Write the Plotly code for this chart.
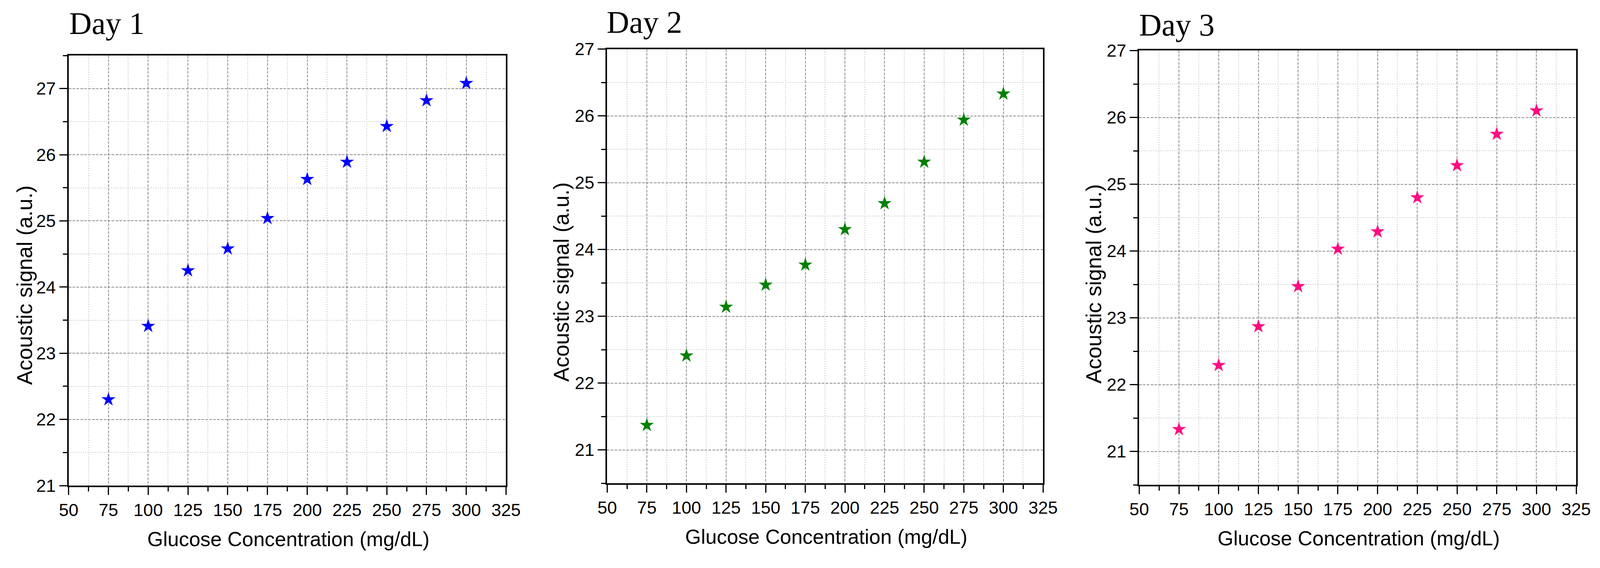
import plotly.graph_objects as go

W, H = 4136, 1454

glucose = [75, 100, 125, 150, 175, 200, 225, 250, 275, 300]
day1 = [22.30, 23.41, 24.25, 24.58, 25.04, 25.63, 25.89, 26.43, 26.82, 27.08]
day2 = [21.37, 22.41, 23.14, 23.47, 23.77, 24.30, 24.69, 25.31, 25.94, 26.33]
day3 = [21.33, 22.29, 22.87, 23.47, 24.03, 24.29, 24.80, 25.28, 25.75, 26.10]

titles = ["Day 1", "Day 2", "Day 3"]
colors = ["#0000FF", "#008000", "#FF0A80"]
x_ticks = [50, 75, 100, 125, 150, 175, 200, 225, 250, 275, 300, 325]
y_ticks = [21, 22, 23, 24, 25, 26, 27]
y_ranges = [[21, 27.5], [20.5, 27], [20.5, 27]]
x_title = "Glucose Concentration (mg/dL)"
y_title = "Acoustic signal (a.u.)"

DX = -22  # horizontal correction
# panel pixel boxes: (left, right, top, bottom)
boxes = [(167, 1304, 113, 1254), (1567, 2700, 96, 1248), (2950, 4086, 100, 1252)]
# title positions (left x, center y)
title_pos = [(166, 28), (1563, 25), (2948, 32)]
xt_pos = [(738, 1396), (2137, 1390), (3521, 1394)]
yt_pos = [(52, 722), (1448, 714), (2832, 719)]

SANS = "Liberation Sans, Arial, sans-serif"
SERIF = "Liberation Serif, Times New Roman, serif"

fig = go.Figure()
series = [day1, day2, day3]
annotations = []
for i in range(3):
    sfx = "" if i == 0 else str(i + 1)
    fig.add_trace(go.Scatter(
        x=glucose, y=series[i], mode="markers",
        marker=dict(symbol="star", size=27, color=colors[i], line=dict(width=0)),
        xaxis="x" + sfx, yaxis="y" + sfx, showlegend=False,
    ))
    l, r, t, b = boxes[i]
    l += DX
    r += DX
    xd = [l / W, r / W]
    yd = [1 - b / H, 1 - t / H]
    common = dict(
        showline=True, linecolor="black", linewidth=4, mirror=True,
        ticks="outside", ticklen=20, tickwidth=3, tickcolor="black",
        showgrid=True, gridcolor="#8a8a8a", gridwidth=2, griddash="6px,4px",
        zeroline=False,
        tickfont=dict(family=SANS, size=45, color="black"),
    )
    fig.update_layout(**{
        "xaxis" + sfx: dict(
            domain=xd, range=[50, 325], tickmode="array", tickvals=x_ticks,
            ticktext=[str(v) for v in x_ticks],
            anchor="y" + sfx,
            minor=dict(ticks="outside", ticklen=11, tickwidth=3, tickcolor="black",
                       dtick=12.5, tick0=50, showgrid=True, gridcolor="#d0d0d0",
                       gridwidth=1.5, griddash="dot"),
            **common),
        "yaxis" + sfx: dict(
            domain=yd, range=y_ranges[i], tickmode="array", tickvals=y_ticks,
            ticktext=[str(v) for v in y_ticks],
            anchor="x" + sfx,
            minor=dict(ticks="outside", ticklen=11, tickwidth=3, tickcolor="black",
                       dtick=0.5, tick0=21, showgrid=True, gridcolor="#d0d0d0",
                       gridwidth=1.5, griddash="dot"),
            **common),
    })
    tx, ty = title_pos[i]
    annotations.append(dict(
        text=titles[i], x=(tx + DX) / W, y=1 - ty / H, xref="paper", yref="paper",
        xanchor="left", yanchor="middle", showarrow=False,
        font=dict(family=SERIF, size=80, color="black")))
    ax_, ay_ = xt_pos[i]
    annotations.append(dict(
        text=x_title, x=(ax_ + DX) / W, y=1 - ay_ / H, xref="paper", yref="paper",
        xanchor="center", yanchor="middle", showarrow=False,
        font=dict(family=SANS, size=52, color="black")))
    bx, by = yt_pos[i]
    annotations.append(dict(
        text=y_title, x=(bx + DX) / W, y=1 - by / H, xref="paper", yref="paper",
        xanchor="center", yanchor="middle", showarrow=False, textangle=-90,
        font=dict(family=SANS, size=55, color="black")))

fig.update_layout(
    width=W, height=H,
    margin=dict(l=0, r=0, t=0, b=0),
    paper_bgcolor="white", plot_bgcolor="white",
    annotations=annotations,
)

fig.write_html("out.html")
